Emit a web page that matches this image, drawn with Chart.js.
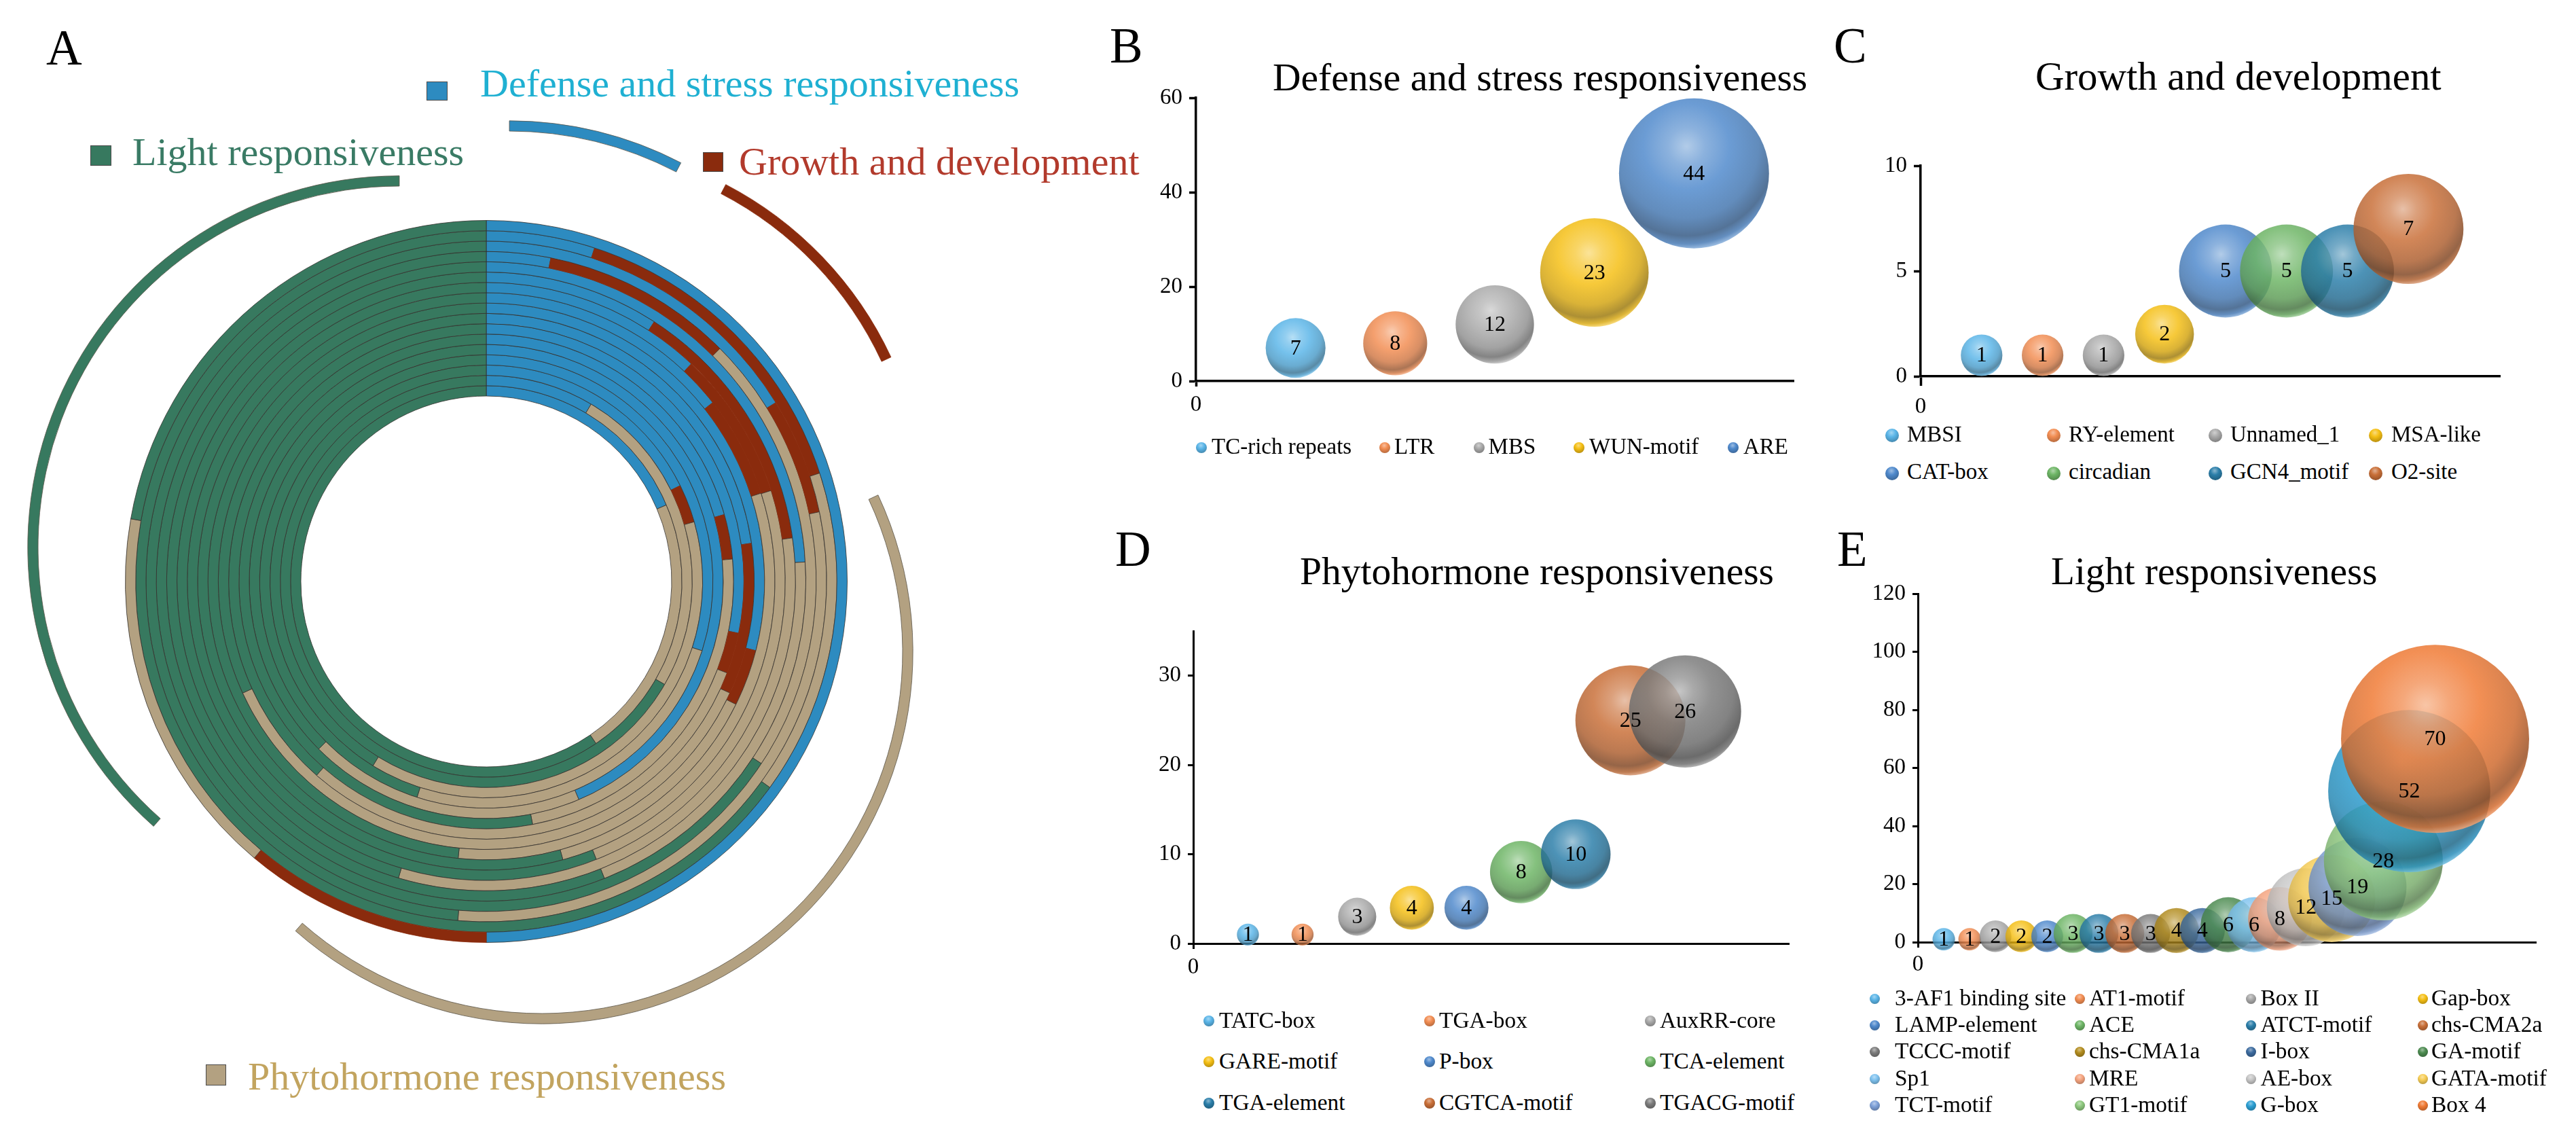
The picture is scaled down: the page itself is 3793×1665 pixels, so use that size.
<!DOCTYPE html>
<html><head><meta charset="utf-8">
<script src="https://cdn.jsdelivr.net/npm/chart.js@4"></script>
<style>
html,body{margin:0;padding:0;background:#fff;width:3793px;height:1665px;overflow:hidden}
canvas{position:absolute}
.t{position:absolute;white-space:nowrap;font-family:"Liberation Serif";line-height:1.149;z-index:5}
.sq{position:absolute;box-sizing:border-box;border:1px solid #4a4a4a;z-index:5}
.dot{position:absolute;border-radius:50%;z-index:5}
</style></head><body>
<script>
// ---------- Panel A: nested rings, outermost first (degrees clockwise from the top)
const ringCategories = ['Defense and stress responsiveness','Growth and development','Phytohormone responsiveness','Light responsiveness'];
const ringBlue  = [180,18,58.3,11.3,86.5,32.9,43.3,51.7,104.4,81.8,101.6,74.3,157,107.8,63.7,30.6,67];
const ringRed   = [40,54,19.9,33.8,0,49,29,20.5,11.8,32.8,9.2,10.5,0,0,10.3,0,0];
const ringTan   = [60,54,106.6,78.4,71.8,114.6,86.1,92.4,69.6,130.8,110.4,84.4,68,90,137.6,89.4,78.9];
const ringGreen = [80,234,175.2,236.5,201.7,163.5,201.6,195.4,174.2,114.6,138.8,190.8,135,162.2,148.4,240,214.1];
const explodedSpans = [27.5,37.5,156.4,138.6];

// ---------- Panel B
const bCategories = ['TC-rich repeats','LTR','MBS','WUN-motif','ARE'];
const bValues = [7,8,12,23,44];
// ---------- Panel C
const cCategories = ['MBSI','RY-element','Unnamed_1','MSA-like','CAT-box','circadian','GCN4_motif','O2-site'];
const cValues = [1,1,1,2,5,5,5,7];
// ---------- Panel D
const dCategories = ['TATC-box','TGA-box','AuxRR-core','GARE-motif','P-box','TCA-element','TGA-element','CGTCA-motif','TGACG-motif'];
const dValues = [1,1,3,4,4,8,10,25,26];
// ---------- Panel E
const eCategories = ['3-AF1 binding site','AT1-motif','Box II','Gap-box','LAMP-element','ACE','ATCT-motif','chs-CMA2a','TCCC-motif','chs-CMA1a','I-box','GA-motif','Sp1','MRE','AE-box','GATA-motif','TCT-motif','GT1-motif','G-box','Box 4'];
const eValues = [1,1,2,2,2,3,3,3,3,4,4,6,6,8,12,15,19,28,52,70];

// ---------- Styles
const serif = 'Liberation Serif';
Chart.defaults.font.family = serif;
Chart.defaults.animation = false;
Chart.defaults.responsive = false;
Chart.defaults.devicePixelRatio = 1;
Chart.defaults.plugins.legend.display = false;
Chart.defaults.plugins.tooltip.enabled = false;
Chart.defaults.events = [];

const BLUE='#2d8bc0', RED='#8a2b0d', TAN='#b3a181', GREEN='#37795f', LINE='#33302c';
const ringColors=[BLUE,RED,TAN,GREEN];
const ringBorders=[LINE,RED,LINE,LINE];
const C={sky:'#5ab5e8',orange:'#f28d52',gray:'#a9a9a9',yellow:'#f5bf14',blue:'#4f89cc',green:'#6db565',teal:'#2b7ea9',burnt:'#c96f38',dgray:'#7c7c7c',olive:'#b28c1e',navy:'#3c6b9f',dgreen:'#4c8b50',sky2:'#7ec2ef',salmon:'#f5a47f',lgray:'#c6c6c6',lyellow:'#f7cd55',peri:'#7ea1d9',lgreen:'#8dc87d',cyan:'#2c9fd3',box4:'#f07a34'};
const bColors=[C.sky,C.orange,C.gray,C.yellow,C.blue];
const cColors=[C.sky,C.orange,C.gray,C.yellow,C.blue,C.green,C.teal,C.burnt];
const dColors=[C.sky,C.orange,C.gray,C.yellow,C.blue,C.green,C.teal,C.burnt,C.dgray];
const eColors=[C.sky,C.orange,C.gray,C.yellow,C.blue,C.green,C.teal,C.burnt,C.dgray,C.olive,C.navy,C.dgreen,C.sky2,C.salmon,C.lgray,C.lyellow,C.peri,C.lgreen,C.cyan,C.box4];

function mix(hex,target,f,a){
  const n=parseInt(hex.slice(1),16),r=n>>16,g=(n>>8)&255,b=n&255;
  const m=v=>Math.round(v+(target-v)*f);
  return `rgba(${m(r)},${m(g)},${m(b)},${a})`;
}
function sphereStops(col,a){
  return [[0,mix(col,255,.48,a)],[.18,mix(col,255,.22,a)],[.42,mix(col,0,0,a)],[.7,mix(col,0,.14,a)],[.87,mix(col,0,.36,a)],[.95,mix(col,0,.12,a)],[1,mix(col,255,.32,a)]];
}
function sphereFill(colors,alpha){
  return c=>{
    const col=colors[c.dataIndex]||colors[0];
    const ch=c.chart, raw=c.raw;
    if(!ch.chartArea||!raw||!ch.scales.x) return col;
    const x=ch.scales.x.getPixelForValue(raw.x), y=ch.scales.y.getPixelForValue(raw.y), r=raw.r;
    const fx=x-.1*r, fy=y-.36*r;
    const g=ch.ctx.createRadialGradient(fx,fy,0,fx,fy,1.37*r);
    sphereStops(col,alpha).forEach(s=>g.addColorStop(s[0],s[1]));
    return g;
  };
}
const valueLabels={id:'valueLabels',afterDatasetsDraw(ch){
  const ctx=ch.ctx, ds=ch.data.datasets[0], m=ch.getDatasetMeta(0);
  ctx.save();ctx.fillStyle='#000';ctx.font=`32px "${serif}"`;ctx.textAlign='center';ctx.textBaseline='middle';
  m.data.forEach((e,i)=>ctx.fillText(String(ds.data[i].y),e.x,e.y+1));
  ctx.restore();
}};

function mkCanvas(left,top,w,h){
  const c=document.createElement('canvas');c.width=w;c.height=h;
  c.style.left=left+'px';c.style.top=top+'px';c.style.width=w+'px';c.style.height=h+'px';
  document.body.appendChild(c);return c;
}
function text(s,x,base,size,color){
  const d=document.createElement('div');d.className='t';d.textContent=s;
  d.style.left=x+'px';d.style.top=(base-size*(.891+(1.149-1.107)/2))+'px';d.style.fontSize=size+'px';d.style.color=color;
  document.body.appendChild(d);
}
function square(x,y,w,h,col){
  const d=document.createElement('div');d.className='sq';
  Object.assign(d.style,{left:x+'px',top:y+'px',width:w+'px',height:h+'px',background:col});
  document.body.appendChild(d);
}
function dot(cx,cy,r,col){
  const d=document.createElement('div');d.className='dot';
  const stops=[[0,mix(col,255,.45,1)],[.35,col],[.8,mix(col,0,.25,1)],[1,mix(col,255,.1,1)]];
  Object.assign(d.style,{left:(cx-r)+'px',top:(cy-r)+'px',width:2*r+'px',height:2*r+'px',
    background:`radial-gradient(circle at 45% 30%, ${stops.map(s=>s[1]+' '+(s[0]*100)+'%').join(',')})`});
  document.body.appendChild(d);
}

// ---------- Panel A charts
(function(){
  const cx=715.5, cy=855.5, R=531.5, r=273, half=560;
  new Chart(mkCanvas(cx-half,cy-half,2*half,2*half),{type:'doughnut',
    data:{labels:ringCategories,datasets:ringBlue.map((b,i)=>({
      data:[b,ringRed[i],ringTan[i],ringGreen[i]],backgroundColor:ringColors,borderColor:ringBorders,borderWidth:.8}))},
    options:{radius:R,cutout:(r/R*100)+'%',layout:{padding:0}}});
  const centers=[[750,725],[816,757],[797,960],[588,806]];
  const OR=547.2, IR=532;
  centers.forEach((c,i)=>{
    const h=600;
    new Chart(mkCanvas(c[0]-h,c[1]-h,2*h,2*h),{type:'doughnut',
      data:{labels:ringCategories,datasets:[{data:explodedSpans,
        backgroundColor:ringColors.map((k,j)=>j===i?k:'rgba(0,0,0,0)'),
        borderColor:ringColors.map((k,j)=>j===i?(k===RED?RED:'#5a5448'):'rgba(0,0,0,0)'),borderWidth:.8}]},
      options:{radius:OR,cutout:(IR/OR*100)+'%'}});
  });
})();
text('A',68,96,73,'#000');
square(628,120,31,28,BLUE);
text(ringCategories[0],707,143,58,'#1fb0d2');
square(133,214,31,30,GREEN);
text('Light responsiveness',195,244,58,'#3a7b65');
square(1035,224,30,29,RED);
text('Growth and development',1088,258,58,'#b23a2c');
square(303,1567,30,31,TAN);
text('Phytohormone responsiveness',365,1605,58,'#c2a45f');

// ---------- Bubble panels
function bubble(cats,vals,cols,o){
  const padL=150,padT=150,padR=110,padB=95;
  const W=o.xEnd-o.x0+padL+padR, H=o.y0-o.yTop+padT+padB;
  new Chart(mkCanvas(o.x0-padL,o.yTop-padT,W,H),{type:'bubble',
    data:{labels:cats,datasets:[{data:vals.map((v,i)=>({x:i+1,y:v,r:o.k*Math.sqrt(v)})),
      backgroundColor:sphereFill(cols,.84),borderWidth:0,clip:false}]},
    options:{layout:{autoPadding:false,padding:{left:0,top:padT,right:padR,bottom:0}},
      scales:{
        x:{type:'linear',min:0,max:o.xMax,afterBuildTicks:s=>{s.ticks=[{value:0}]},afterFit:s=>{s.height=padB},
          grid:{drawOnChartArea:false,drawTicks:true,tickLength:o.tickX,tickWidth:o.lw,tickColor:'#000'},
          border:{color:'#000',width:o.lw},ticks:{color:'#000',font:{size:33},padding:o.padX,maxRotation:0}},
        y:{type:'linear',min:0,max:o.yMax,afterFit:s=>{s.width=padL},
          grid:{drawOnChartArea:false,drawTicks:true,tickLength:o.tickY,tickWidth:o.lw,tickColor:'#000'},
          border:{color:'#000',width:o.lw},ticks:{color:'#000',font:{size:33},padding:o.padY,stepSize:o.step,includeBounds:false}}
      }},plugins:[valueLabels]});
}
function legendGrid(cats,cols,xs,tx,ys,r,size){
  cats.forEach((c,i)=>{
    const col=i%xs.length,row=Math.floor(i/xs.length);
    dot(xs[col],ys[row],r,cols[i]);
    text(c,tx[col],ys[row]+size*.3,size,'#000');
  });
}

bubble(bCategories,bValues,bColors,{x0:1761,xEnd:2641,y0:561,yTop:144,xMax:6,yMax:60,step:20,k:16.65,lw:3.5,tickX:8,padX:8,tickY:10,padY:10});
text('B',1634,93,73,'#000');
text('Defense and stress responsiveness',1874,133,57.5,'#000');
legendGrid(bCategories,bColors,[1769,2039,2177.5,2325,2552],[1784,2053,2191.6,2340,2567],[659],8,33);

bubble(cCategories,cValues,cColors,{x0:2827.5,xEnd:3681,y0:554,yTop:244,xMax:9.5,yMax:10,step:5,k:30.6,lw:3.5,tickX:14,padX:12,tickY:10,padY:10});
text('C',2700,93,73,'#000');
text('Growth and development',2997,133,58.8,'#000');
legendGrid(cCategories,cColors,[2786,3024,3261.5,3498],[2808,3046,3284,3521],[641,696.5],10,33);

bubble(dCategories,dValues,dColors,{x0:1757,xEnd:2634,y0:1388.5,yTop:928.5,xMax:10.9,yMax:35,step:10,k:16.2,lw:3,tickX:8,padX:8,tickY:8,padY:10});
text('D',1642,834,73,'#000');
text('Phytohormone responsiveness',1914,860,57.5,'#000');
legendGrid(dCategories,dColors,[1780,2105,2429.5],[1795,2119,2444],[1503,1563,1624],8,33.4);

bubble(eCategories,eValues,eColors,{x0:2823.5,xEnd:3734,y0:1386.8,yTop:873.7,xMax:23.9,yMax:120,step:20,k:16.55,lw:3,tickX:8,padX:6,tickY:8,padY:10});
text('E',2705,834,73,'#000');
text('Light responsiveness',3020,860,57.1,'#000');
legendGrid(eCategories,eColors,[2760,3062.5,3314,3567],[2790,3076,3328.6,3580],[1470,1509,1548,1588,1627.5],7.5,33.4);
</script>
</body></html>
